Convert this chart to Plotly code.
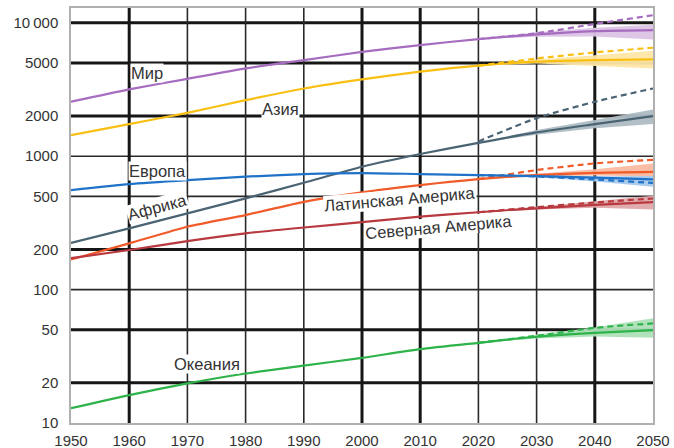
import numpy as np
import plotly.graph_objects as go

# ---------------- data ----------------
years = [1950, 1960, 1970, 1980, 1990, 2000, 2010, 2020, 2030, 2040, 2050]
proj_years = [2020, 2030, 2040, 2050]

world = [2560, 3170, 3800, 4550, 5250, 6050, 6810, 7550, 8190, 8670, 8820]
asia = [1440, 1740, 2115, 2630, 3220, 3770, 4300, 4770, 5110, 5250, 5320]
africa = [224, 288, 373, 483, 632, 834, 1038, 1260, 1507, 1740, 2000]
europe = [557, 618, 662, 702, 735, 748, 735, 722, 710, 690, 670]
latam = [168, 222, 296, 362, 455, 536, 607, 673, 722, 751, 764]
namerica = [172, 198, 231, 264, 292, 320, 352, 380, 407, 431, 452]
oceania = [12.9, 16.2, 19.8, 23.5, 26.9, 30.8, 35.8, 39.9, 44.3, 47.4, 49.7]

# UN projections (dashed)
world_un = [7550, 8350, 9800, 11400]
asia_un = [4770, 5400, 6000, 6500]
africa_un = [1290, 1930, 2560, 3220]
europe_un = [722, 705, 670, 630]
latam_un = [673, 787, 883, 940]
namerica_un = [380, 415, 450, 482]
oceania_un = [39.9, 45.0, 51.7, 55.8]

# uncertainty bands (lower, upper)
world_lo = [7550, 7850, 7900, 7500]
world_hi = [7550, 8500, 9200, 9650]
asia_lo = [4770, 4950, 4750, 4550]
asia_hi = [4770, 5300, 5700, 6170]
africa_lo = [1260, 1450, 1620, 1740]
africa_hi = [1260, 1570, 1870, 2240]
europe_lo = [722, 695, 645, 590]
europe_hi = [722, 722, 705, 712]
latam_lo = [673, 708, 718, 705]
latam_hi = [673, 740, 800, 880]
namerica_lo = [380, 398, 410, 398]
namerica_hi = [380, 418, 455, 505]
oceania_lo = [39.9, 43.0, 44.5, 43.5]
oceania_hi = [39.9, 46.0, 52.0, 61.0]

# tick labels
x_ticks = [1950, 1960, 1970, 1980, 1990, 2000, 2010, 2020, 2030, 2040, 2050]
x_thick = [None, True, False, False, False, True, True, False, False, True, None]
y_ticks = [10, 20, 50, 100, 200, 500, 1000, 2000, 5000, 10000]
y_ticktext = ["10", "20", "50", "100", "200", "500", "1000", "2000", "5000", "10\u2009000"]
y_thick = [None, True, True, False, True, False, False, True, True, True]

# labels: (text, year, value, angle)
lbl_text = ["Мир", "Азия", "Европа", "Африка", "Латинская Америка", "Северная Америка", "Океания"]
lbl_year = [1963.1, 1986.0, 1964.9, 1964.9, 2006.5, 2013.1, 1973.4]
lbl_value = [4200, 2275, 780, 415, 476, 297, 27.7]
lbl_angle = [0, 0, 0, -15, -5, -5, 0]

series = [
    ("world", world, world_un, world_lo, world_hi, "#a56cbf", "#dcc3e6"),
    ("asia", asia, asia_un, asia_lo, asia_hi, "#f9c013", "#fde6a6"),
    ("africa", africa, africa_un, africa_lo, africa_hi, "#4b6473", "#aebcc4"),
    ("latam", latam, latam_un, latam_lo, latam_hi, "#f15a29", "#f9bba0"),
    ("europe", europe, europe_un, europe_lo, europe_hi, "#1f72c8", "#a6c8ec"),
    ("namerica", namerica, namerica_un, namerica_lo, namerica_hi, "#b8393f", "#e0a8aa"),
    ("oceania", oceania, oceania_un, oceania_lo, oceania_hi, "#2db34a", "#ade0b8"),
]

fig = go.Figure()

# gridlines
for v, thick in zip(y_ticks, y_thick):
    if thick is None:
        continue
    fig.add_trace(go.Scatter(x=[1950, 2050], y=[v, v], mode="lines",
                             line=dict(color="#161616" if thick else "#2a2a2a", width=3.0 if thick else 1.6),
                             hoverinfo="skip", showlegend=False))
for v, thick in zip(x_ticks, x_thick):
    if thick is None:
        continue
    fig.add_trace(go.Scatter(x=[v, v], y=[10, 20000], mode="lines",
                             line=dict(color="#161616" if thick else "#2a2a2a", width=3.0 if thick else 1.6),
                             hoverinfo="skip", showlegend=False))

# bands
for name, s, un, lo, hi, col, bcol in series:
    fig.add_trace(go.Scatter(x=proj_years + proj_years[::-1], y=hi + lo[::-1], mode="lines",
                             fill="toself", fillcolor=bcol, line=dict(width=0, color=bcol),
                             hoverinfo="skip", showlegend=False, opacity=0.95))

# dashed UN lines
for name, s, un, lo, hi, col, bcol in series:
    fig.add_trace(go.Scatter(x=proj_years, y=un, mode="lines",
                             line=dict(color=col, width=2.2, dash="6px,4px", shape="spline", smoothing=0.6),
                             showlegend=False))

# solid lines
for name, s, un, lo, hi, col, bcol in series:
    fig.add_trace(go.Scatter(x=years, y=s, mode="lines",
                             line=dict(color=col, width=2.2, shape="spline", smoothing=0.6),
                             showlegend=False, name=name))

for t, xx, yy, a in zip(lbl_text, lbl_year, lbl_value, lbl_angle):
    fig.add_annotation(x=xx, y=float(np.log10(yy)), text=t, showarrow=False, textangle=a,
                       font=dict(family="Liberation Sans, Arial, sans-serif", size=16.5, color="#333333"),
                       bgcolor="white", borderpad=0)

font = dict(family="Liberation Sans, Arial, sans-serif", size=15, color="#333333")
fig.update_layout(
    width=674, height=448,
    margin=dict(l=71, r=21, t=8, b=25),
    paper_bgcolor="white", plot_bgcolor="white",
    font=font,
    showlegend=False,
    xaxis=dict(range=[1950, 2050], tickvals=x_ticks, showgrid=False, zeroline=False,
               showline=True, linecolor="#b0b0b0", linewidth=1.5, mirror=True, ticks="",
               tickfont=font, ticklabelstandoff=3, automargin=False),
    yaxis=dict(type="log", range=[1, 4.111], tickvals=y_ticks, ticktext=y_ticktext,
               showgrid=False, zeroline=False, showline=True, linecolor="#b0b0b0", linewidth=1.5,
               mirror=True, ticks="", tickfont=font, ticklabelstandoff=8, automargin=False),
)

fig.write_html("out.html")
